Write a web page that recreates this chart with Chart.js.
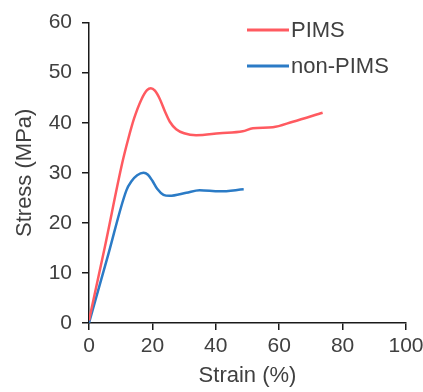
<!DOCTYPE html>
<html lang="en">
<head>
  <meta charset="UTF-8">
  <title>Stress-strain</title>
  <script src="https://cdn.jsdelivr.net/npm/chart.js"></script>
  <style>
    html, body { margin: 0; padding: 0; background: #fff; }
    #wrap { width: 423px; height: 392px; }
  </style>
</head>
<body>
  <div id="wrap"><canvas id="myChart" width="423" height="392"></canvas></div>

  <script>
    // Values
    const seriesNames = ['PIMS', 'non-PIMS'];
    const pimsStrain  = [0, 5.0, 10.5, 12.4, 14.2, 16.5, 18.3, 19.5, 20.8, 22.3, 24.0, 25.5, 27.5, 30.0, 33.8, 41.2, 48.5, 51.7, 58.0, 64.3, 73.7];
    const pimsStress  = [0.5, 15.2, 32.0, 36.8, 40.8, 44.6, 46.5, 46.9, 46.4, 44.8, 42.2, 40.2, 38.7, 37.9, 37.5, 37.9, 38.3, 38.9, 39.1, 40.2, 42.0];
    const nonStrain   = [0, 6.0, 11.8, 13.4, 15.2, 17.2, 18.6, 20.0, 21.5, 23.5, 25.4, 30.7, 34.9, 41.2, 48.8];
    const nonStress   = [0, 13.5, 26.5, 28.3, 29.5, 30.0, 29.6, 28.4, 26.8, 25.6, 25.4, 26.0, 26.5, 26.3, 26.7];
    const xTicks = [0, 20, 40, 60, 80, 100];
    const yTicks = [0, 10, 20, 30, 40, 50, 60];

    const textColor = '#404040';
    const axisColor = '#1a1a1a';
    const font = 'Liberation Sans, Arial, sans-serif';

    function toPoints(xs, ys) {
      return xs.map((x, i) => ({ x: x, y: ys[i] }));
    }

    // Legend drawn inside the plot area, like the original
    const innerLegend = {
      id: 'innerLegend',
      afterDraw(chart) {
        const ctx = chart.ctx;
        const rows = [30, 66];
        ctx.save();
        ctx.font = '22px ' + font;
        ctx.textBaseline = 'middle';
        chart.data.datasets.forEach((ds, i) => {
          ctx.strokeStyle = ds.borderColor;
          ctx.lineWidth = 3;
          ctx.beginPath();
          ctx.moveTo(247, rows[i]);
          ctx.lineTo(289, rows[i]);
          ctx.stroke();
          ctx.fillStyle = textColor;
          ctx.fillText(ds.label, 291, rows[i] + 1);
        });
        ctx.restore();
      }
    };

    const ctx = document.getElementById('myChart').getContext('2d');
    const myChart = new Chart(ctx, {
      type: 'scatter',
      data: {
        datasets: [
          {
            label: seriesNames[0],
            data: toPoints(pimsStrain, pimsStress),
            borderColor: '#ff5a60',
            borderWidth: 2.5,
            showLine: true,
            pointRadius: 0,
            cubicInterpolationMode: 'monotone',
            fill: false
          },
          {
            label: seriesNames[1],
            data: toPoints(nonStrain, nonStress),
            borderColor: '#2b7bc6',
            borderWidth: 2.5,
            showLine: true,
            pointRadius: 0,
            cubicInterpolationMode: 'monotone',
            fill: false
          }
        ]
      },
      options: {
        responsive: false,
        animation: false,
        layout: { padding: { top: 20, right: 17, left: 0, bottom: 0 } },
        plugins: {
          legend: { display: false },
          tooltip: { enabled: false }
        },
        scales: {
          x: {
            type: 'linear',
            min: 0,
            max: 100,
            afterBuildTicks: s => { s.ticks = xTicks.map(v => ({ value: v })); },
            afterFit: s => { s.height = 69; s.paddingLeft = 0; s.paddingRight = 0; },
            border: { color: axisColor, width: 1.5 },
            grid: { drawOnChartArea: false, drawTicks: true, tickLength: 7, color: axisColor, lineWidth: 1.5 },
            ticks: { color: textColor, font: { family: font, size: 21 }, padding: 4, maxRotation: 0 },
            title: { display: true, text: 'Strain (%)', color: textColor, font: { family: font, size: 22 }, padding: { top: 0, bottom: 3 } }
          },
          y: {
            min: 0,
            max: 60,
            afterBuildTicks: s => { s.ticks = yTicks.map(v => ({ value: v })); },
            afterFit: s => { s.width = 89; },
            border: { color: axisColor, width: 1.5 },
            grid: { drawOnChartArea: false, drawTicks: true, tickLength: 7, color: axisColor, lineWidth: 1.5 },
            ticks: { color: textColor, font: { family: font, size: 21 }, padding: 10 },
            title: { display: true, text: 'Stress (MPa)', color: textColor, font: { family: font, size: 22 }, padding: { top: 12, bottom: 0 } }
          }
        }
      },
      plugins: [innerLegend]
    });
  </script>
</body>
</html>
